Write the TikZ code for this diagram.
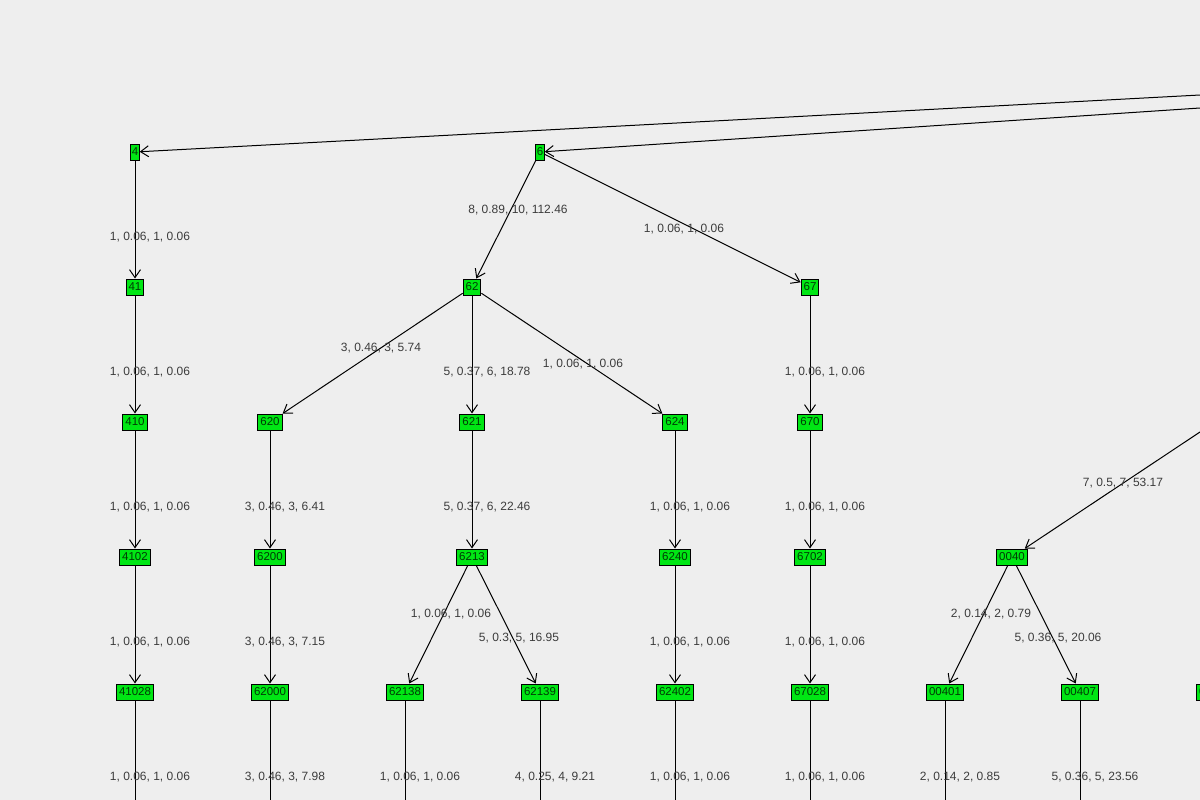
\documentclass[tikz,border=0pt]{standalone}
\usepackage{fontspec}
\setmainfont{Liberation Sans}
\usetikzlibrary{arrows.meta,positioning}
\definecolor{bg}{RGB}{238,238,238}
\definecolor{leaf}{RGB}{0,230,20}
\definecolor{ink}{RGB}{60,60,60}

\begin{document}
\begin{tikzpicture}[x=1pt,y=-1pt,line width=1pt,
     treenode/.style={draw=black,fill=leaf,font=\fontsize{11.5}{13}\selectfont,inner sep=2.5pt,minimum height=16pt,text=black!75!leaf},
     link/.style={draw=black,-{Straight Barb[length=8pt,width=11pt]}},
     weight/.style={font=\fontsize{12}{14}\selectfont,text=ink}]
\fill[bg] (0,0) rectangle (1200,800);
\useasboundingbox (0,0) rectangle (1200,800);

% The nodes
\node (n4)     [treenode,inner sep=1pt] at (135,152) {4};
\node (n6)     [treenode,inner sep=1pt] at (540,152) {6};
\node (n41)    [treenode] at (135,287) {41};
\node (n62)    [treenode] at (472,287) {62};
\node (n67)    [treenode] at (810,287) {67};
\node (n410)   [treenode] at (135,422) {410};
\node (n620)   [treenode] at (270,422) {620};
\node (n621)   [treenode] at (472,422) {621};
\node (n624)   [treenode] at (675,422) {624};
\node (n670)   [treenode] at (810,422) {670};
\node (n4102)  [treenode] at (135,557) {4102};
\node (n6200)  [treenode] at (270,557) {6200};
\node (n6213)  [treenode] at (472,557) {6213};
\node (n6240)  [treenode] at (675,557) {6240};
\node (n6702)  [treenode] at (810,557) {6702};
\node (n0040)  [treenode] at (1012,557) {0040};
\node (n41028) [treenode] at (135,692) {41028};
\node (n62000) [treenode] at (270,692) {62000};
\node (n62138) [treenode] at (405,692) {62138};
\node (n62139) [treenode] at (540,692) {62139};
\node (n62402) [treenode] at (675,692) {62402};
\node (n67028) [treenode] at (810,692) {67028};
\node (n00401) [treenode] at (945,692) {00401};
\node (n00407) [treenode] at (1080,692) {00407};
\node (nedge)  [treenode,anchor=west] at (1196,692) {00};

% Free ends
\coordinate (top4) at (1200,95);
\coordinate (top6) at (1200,108);
\coordinate (top0) at (1200,432);

% The links
\draw [link] (top4) -- (n4);
\draw [link] (top6) -- (n6);
\draw [link] (top0) -- (n0040);
\draw [link] (n4) -- (n41);
\draw [link] (n6) -- (n62);
\draw [link] (n6) -- (n67);
\draw [link] (n41) -- (n410);
\draw [link] (n62) -- (n620);
\draw [link] (n62) -- (n621);
\draw [link] (n62) -- (n624);
\draw [link] (n67) -- (n670);
\draw [link] (n410) -- (n4102);
\draw [link] (n620) -- (n6200);
\draw [link] (n621) -- (n6213);
\draw [link] (n624) -- (n6240);
\draw [link] (n670) -- (n6702);
\draw [link] (n4102) -- (n41028);
\draw [link] (n6200) -- (n62000);
\draw [link] (n6213) -- (n62138);
\draw [link] (n6213) -- (n62139);
\draw [link] (n6240) -- (n62402);
\draw [link] (n6702) -- (n67028);
\draw [link] (n0040) -- (n00401);
\draw [link] (n0040) -- (n00407);
\foreach \n in {41028,62000,62138,62139,62402,67028,00401,00407}
  \draw (n\n) -- (n\n |- 0,800);

% The weights
\node [weight] at (150,237) {1, 0.06, 1, 0.06};
\node [weight] at (518,210) {8, 0.89, 10, 112.46};
\node [weight] at (684,229) {1, 0.06, 1, 0.06};
\node [weight] at (150,372) {1, 0.06, 1, 0.06};
\node [weight] at (381,348) {3, 0.46, 3, 5.74};
\node [weight] at (487,372) {5, 0.37, 6, 18.78};
\node [weight] at (583,364) {1, 0.06, 1, 0.06};
\node [weight] at (825,372) {1, 0.06, 1, 0.06};
\node [weight] at (150,507) {1, 0.06, 1, 0.06};
\node [weight] at (285,507) {3, 0.46, 3, 6.41};
\node [weight] at (487,507) {5, 0.37, 6, 22.46};
\node [weight] at (690,507) {1, 0.06, 1, 0.06};
\node [weight] at (825,507) {1, 0.06, 1, 0.06};
\node [weight] at (1123,483) {7, 0.5, 7, 53.17};
\node [weight] at (150,642) {1, 0.06, 1, 0.06};
\node [weight] at (285,642) {3, 0.46, 3, 7.15};
\node [weight] at (451,614) {1, 0.06, 1, 0.06};
\node [weight] at (519,638) {5, 0.3, 5, 16.95};
\node [weight] at (690,642) {1, 0.06, 1, 0.06};
\node [weight] at (825,642) {1, 0.06, 1, 0.06};
\node [weight] at (991,614) {2, 0.14, 2, 0.79};
\node [weight] at (1058,638) {5, 0.36, 5, 20.06};
\node [weight] at (150,777) {1, 0.06, 1, 0.06};
\node [weight] at (285,777) {3, 0.46, 3, 7.98};
\node [weight] at (420,777) {1, 0.06, 1, 0.06};
\node [weight] at (555,777) {4, 0.25, 4, 9.21};
\node [weight] at (690,777) {1, 0.06, 1, 0.06};
\node [weight] at (825,777) {1, 0.06, 1, 0.06};
\node [weight] at (960,777) {2, 0.14, 2, 0.85};
\node [weight] at (1095,777) {5, 0.36, 5, 23.56};
\end{tikzpicture}
\end{document}
